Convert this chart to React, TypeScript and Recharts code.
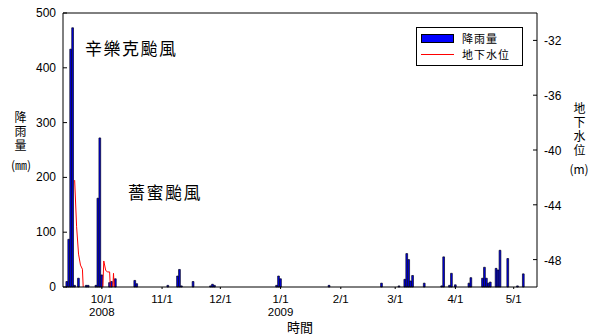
import React from 'react';
import { ComposedChart, Bar, Line, XAxis, YAxis, Legend, ReferenceLine } from 'recharts';

// day index 0 = 2008/9/11
const rainDay = [2, 3, 4, 5, 6, 8, 12, 13, 17, 18, 19, 20, 24, 25, 27, 37, 38, 54, 59, 60, 61, 67, 76, 77, 78,
    110, 111, 112, 137, 164, 173, 176, 177, 178, 179, 180, 186, 195, 196, 199, 200, 202, 209, 210,
    216, 217, 218, 219, 220, 223, 224, 225, 229, 234, 237];
const rainMm = [10, 87, 434, 473, 3, 16, 3, 3, 3, 162, 272, 22, 8, 10, 15, 12, 6, 3, 20, 32, 2, 10, 2, 5, 3,
    3, 20, 15, 3, 7, 2, 14, 61, 50, 11, 21, 7, 2, 55, 3, 25, 4, 7, 17,
    16, 36, 16, 7, 9, 34, 31, 67, 52, 2, 24];

// groundwater level (m); days without reading stay null
const levelDay = [6, 7, 8, 9, 10, 11, 20, 21, 22, 23, 24, 25, 26, 27];
const levelM = [-42.2, -45.6, -47.6, -48.4, -48.7, -52, -52, -48.1, -48.8, -48.9, -48.9, -52, -49.0, -52];

const monthTicks = [20, 51, 81, 112, 143, 171, 202, 232];
const monthLabels = ['10/1', '11/1', '12/1', '1/1', '2/1', '3/1', '4/1', '5/1'];
const yearLabels = ['2008', '', '', '2009', '', '', '', ''];

const rainTicks = [0, 100, 200, 300, 400, 500];
const levelTicks = [-48, -44, -40, -36, -32];

const totalDays = 244;

const data = Array.from({ length: totalDays + 1 }, (_, d) => {
    const ri = rainDay.indexOf(d);
    const li = levelDay.indexOf(d);
    return { day: d, rain: ri >= 0 ? rainMm[ri] : 0, level: li >= 0 ? levelM[li] : null };
});

const num = "Arial, 'Liberation Sans', sans-serif";
const cjk = "'Noto Sans CJK TC', 'Noto Sans CJK SC', sans-serif";

const LeftTick = ({ x, y, payload }: any) => (
    <g>
        <line x1={x + 7} x2={x + 11} y1={y} y2={y} stroke="#000" />
        <text x={x} y={y} dy={4} textAnchor="end" fontSize={12} fontFamily={num} fill="#000">{payload.value}</text>
    </g>
);

const RightTick = ({ x, y, payload }: any) => (
    <g>
        <line x1={x - 7} x2={x - 11} y1={y} y2={y} stroke="#000" />
        <text x={x} y={y} dy={5} textAnchor="start" fontSize={12} fontFamily={num} fill="#000">{payload.value}</text>
    </g>
);

const DateTick = ({ x, y, payload }: any) => {
    const i = monthTicks.indexOf(payload.value);
    return (
        <g>
            <text x={x} y={y + 14} textAnchor="middle" fontSize={11.5} fontFamily={num} fill="#000">{monthLabels[i]}</text>
            {yearLabels[i] && (
                <text x={x} y={y + 27} textAnchor="middle" fontSize={11.5} fontFamily={num} fill="#000">{yearLabels[i]}</text>
            )}
        </g>
    );
};

const LegendBox = ({ payload }: any) => {
    const items = [...(payload || [])].sort((a: any, b: any) => (a.type === 'line' ? 1 : 0) - (b.type === 'line' ? 1 : 0));
    return (
        <div style={{ border: '1px solid #000', background: '#fff', width: 107, height: 39, boxSizing: 'border-box', padding: '2px 0 0 4px', fontFamily: cjk, fontSize: 11 }}>
            {items.map((p: any) => (
                <div key={p.value} style={{ display: 'flex', alignItems: 'center', height: 16 }}>
                    {p.type === 'line'
                        ? <div style={{ width: 33, height: 1, background: '#ff0000', marginRight: 8 }} />
                        : <div style={{ width: 31, height: 7, background: '#0000ff', border: '1px solid #000', marginRight: 8 }} />}
                    <span style={{ display: 'block', lineHeight: '16px', letterSpacing: 1 }}>{p.value}</span>
                </div>
            ))}
        </div>
    );
};

const vLabel = (text: string, left: number, top: number) => (
    <div style={{ position: 'absolute', left, top, writingMode: 'vertical-rl', fontFamily: cjk, fontSize: 12, letterSpacing: 2, lineHeight: '14px', color: '#000' }}>{text}</div>
);

export default function App() {
    return (
        <div style={{ position: 'absolute', left: 0, top: 0, width: 592, height: 336, background: '#fff' }}>
            <ComposedChart width={592} height={336} data={data} margin={{ top: 13, right: 0, bottom: 0, left: 0 }}>
                <XAxis
                    dataKey="day"
                    type="number"
                    domain={[0, totalDays]}
                    ticks={monthTicks}
                    interval={0}
                    height={49}
                    tickSize={2}
                    tickMargin={0}
                    tick={<DateTick />}
                    axisLine={{ stroke: '#000' }}
                    tickLine={{ stroke: '#000' }}
                />
                <YAxis
                    yAxisId="rain"
                    domain={[0, 500]}
                    ticks={rainTicks}
                    width={63}
                    tickSize={0}
                    tickMargin={7}
                    tick={<LeftTick />}
                    axisLine={{ stroke: '#000' }}
                    tickLine={false}
                />
                <YAxis
                    yAxisId="level"
                    orientation="right"
                    domain={[-50, -30]}
                    allowDataOverflow
                    ticks={levelTicks}
                    width={55}
                    tickSize={0}
                    tickMargin={7}
                    tick={<RightTick />}
                    axisLine={{ stroke: '#000' }}
                    tickLine={false}
                />
                <ReferenceLine yAxisId="rain" y={500} stroke="#000" />
                <Bar yAxisId="rain" dataKey="rain" name="降雨量" barSize={2.4} fill="#0000f0" stroke="#00001a" strokeWidth={0.7} isAnimationActive={false} />
                <Line yAxisId="level" dataKey="level" name="地下水位" type="linear" stroke="#ff0000" strokeWidth={1} dot={false} connectNulls={false} legendType="line" isAnimationActive={false} />
                <Legend
                    layout="vertical"
                    align="center"
                    verticalAlign="middle"
                    content={<LegendBox />}
                    wrapperStyle={{ position: 'absolute', left: 416, top: 27, width: 107, height: 39 }}
                />
            </ComposedChart>

            <div style={{ position: 'absolute', left: 85, top: 35, fontFamily: cjk, fontSize: 17, letterSpacing: 1.5, color: '#000' }}>辛樂克颱風</div>
            <div style={{ position: 'absolute', left: 128, top: 179, fontFamily: cjk, fontSize: 17, letterSpacing: 1.5, color: '#000' }}>薔蜜颱風</div>

            {vLabel('降雨量', 13, 111)}
            <div style={{ position: 'absolute', left: 3, top: 156, width: 36, textAlign: 'center', fontFamily: cjk, fontSize: 12, color: '#000' }}>(㎜)</div>

            {vLabel('地下水位', 572, 102)}
            <div style={{ position: 'absolute', left: 562, top: 160, width: 34, textAlign: 'center', fontFamily: cjk, fontSize: 12, color: '#000' }}>(m)</div>

            <div style={{ position: 'absolute', left: 287, top: 317, fontFamily: cjk, fontSize: 13, color: '#000' }}>時間</div>
        </div>
    );
}
